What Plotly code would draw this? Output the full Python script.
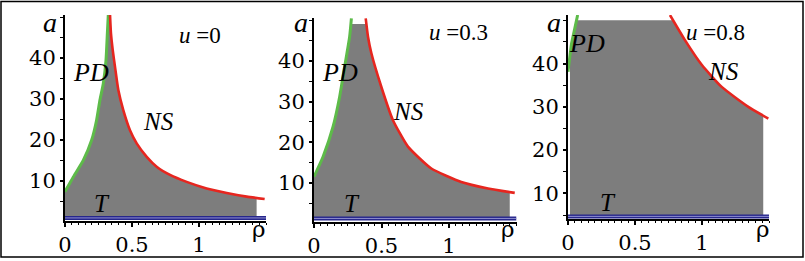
import numpy as np
import plotly.graph_objects as go

W, H = 805, 261

# ---------------- data ----------------
u_values = ["0", "0.3", "0.8"]
x_tickvals = [0, 0.5, 1]
x_ticktext = ["0", "0.5", "1"]
y_tickvals = [10, 20, 30, 40]
y_ticktext = ["10", "20", "30", "40"]

# u = 0
pd_rho_0 = [0.0, 0.062, 0.137, 0.199, 0.236, 0.261, 0.286, 0.306, 0.316, 0.323]
pd_a_0 = [7.4, 11.0, 15.1, 20.0, 24.9, 29.8, 33.8, 39.5, 46.0, 50.5]
ns_rho_0 = [0.336, 0.343, 0.356, 0.373, 0.398, 0.435, 0.485, 0.535, 0.61, 0.684,
            0.784, 0.908, 1.057, 1.207, 1.356, 1.49]
ns_a_0 = [50.5, 46.0, 42.0, 37.9, 32.2, 27.3, 22.4, 19.2, 15.9, 13.5,
          11.5, 9.8, 8.2, 7.1, 6.2, 5.6]
t_a_0 = 1.0

# u = 0.3
pd_rho_3 = [0.0, 0.067, 0.141, 0.19, 0.227, 0.264, 0.277]
pd_a_3 = [11.5, 16.4, 23.8, 31.2, 38.6, 46.0, 50.5]
ns_rho_3 = [0.383, 0.40, 0.425, 0.499, 0.585, 0.696, 0.869, 1.091, 1.289, 1.487]
ns_a_3 = [50.5, 46.0, 41.9, 33.6, 25.4, 18.9, 13.5, 10.2, 8.6, 7.5]
t_a_3 = 1.2

# u = 0.8
pd_rho_8 = [0.0, 0.027, 0.05, 0.072]
pd_a_8 = [38.1, 44.7, 48.0, 51.2]
ns_rho_8 = [0.761, 0.873, 0.998, 1.147, 1.346, 1.495]
ns_a_8 = [51.2, 45.4, 39.7, 34.6, 30.0, 27.3]
t_a_8 = 4.7
# left/top boundary of the shaded region for u = 0.8
edge_rho_8 = [0.015, 0.015, 0.065]
edge_a_8 = [4.7, 44.0, 50.0]

# shaded region limits (cap = top, right = right edge)
caps = [50.5, 49.1, 50.0]
rights = [1.43, 1.45, 1.457]

# ---------------- layout geometry (pixels) ----------------
x_px = [(65, 266), (314, 516.5), (568, 769)]
y_px = [(15, 221), (18, 221.7), (15, 219)]
y_ranges = [[0.25, 50.5], [0.4, 50.6], [4.1, 51.2]]

GREEN = "#5dbb49"
RED = "#e6261f"
BLUE_D = "#26268c"
BLUE_L = "#9a9ad6"
GRAY = "#7d7d7d"
FONT = "Liberation Serif, Times New Roman, serif"
TICKFONT = "DejaVu Serif, serif"


def region(left_r, left_a, ns_r, ns_a, cap, right, t):
    left_r = np.asarray(left_r, float)
    left_a = np.asarray(left_a, float)
    ns_r = np.asarray(ns_r, float)
    ns_a = np.asarray(ns_a, float)
    lx = list(left_r[left_a < cap])
    ly = list(left_a[left_a < cap])
    lx.append(float(np.interp(cap, left_a, left_r)))
    ly.append(cap)
    nx0 = float(np.interp(cap, ns_a[::-1], ns_r[::-1]))
    mask = (ns_a < cap) & (ns_r <= right)
    nx = [nx0] + list(ns_r[mask])
    ny = [cap] + list(ns_a[mask])
    nx.append(right)
    ny.append(float(np.interp(right, ns_r, ns_a)))
    xs = [left_r[0]] + lx + nx + [right, left_r[0]]
    ys = [t] + ly + ny + [t, t]
    return xs, ys


panels = [
    dict(pd=(pd_rho_0, pd_a_0), ns=(ns_rho_0, ns_a_0), t=t_a_0,
         edge=([0.0] + pd_rho_0, [t_a_0] + pd_a_0)),
    dict(pd=(pd_rho_3, pd_a_3), ns=(ns_rho_3, ns_a_3), t=t_a_3,
         edge=([0.0] + pd_rho_3, [t_a_3] + pd_a_3)),
    dict(pd=(pd_rho_8, pd_a_8), ns=(ns_rho_8, ns_a_8), t=t_a_8,
         edge=(edge_rho_8, edge_a_8)),
]

fig = go.Figure()
layout = {}
for i, p in enumerate(panels):
    k = "" if i == 0 else str(i + 1)
    xa, ya = "x" + k, "y" + k
    er, ea = p["edge"]
    gx, gy = region(er, ea, p["ns"][0], p["ns"][1], caps[i], rights[i], p["t"])
    fig.add_trace(go.Scatter(x=gx, y=gy, fill="toself", fillcolor=GRAY,
                             line=dict(width=0, color=GRAY), mode="lines",
                             hoverinfo="skip", xaxis=xa, yaxis=ya))
    fig.add_trace(go.Scatter(x=p["pd"][0], y=p["pd"][1], mode="lines",
                             line=dict(color=GREEN, width=3, shape="spline", smoothing=0.5),
                             xaxis=xa, yaxis=ya))
    fig.add_trace(go.Scatter(x=p["ns"][0], y=p["ns"][1], mode="lines",
                             line=dict(color=RED, width=2.6, shape="spline", smoothing=0.5),
                             xaxis=xa, yaxis=ya))
    fig.add_trace(go.Scatter(x=[0, 1.5], y=[p["t"], p["t"]], mode="lines",
                             line=dict(color=BLUE_D, width=4), xaxis=xa, yaxis=ya))
    fig.add_trace(go.Scatter(x=[0, 1.5], y=[p["t"], p["t"]], mode="lines",
                             line=dict(color=BLUE_L, width=0.9), xaxis=xa, yaxis=ya))

    x0, x1 = x_px[i]
    yt, yb = y_px[i]
    layout["xaxis" + k] = dict(
        domain=[x0 / W, x1 / W], range=[0, 1.5], anchor=ya,
        showline=True, linecolor="black", linewidth=2, mirror=False,
        tickmode="array", tickvals=x_tickvals, ticktext=x_ticktext,
        ticks="outside", ticklen=4, tickwidth=1.5, tickcolor="black",
        tickfont=dict(family=TICKFONT, size=21, color="black"),
        minor=dict(dtick=0.05, ticks="outside", ticklen=2, tickcolor="black", tickwidth=1),
        showgrid=False, zeroline=False, fixedrange=True)
    layout["yaxis" + k] = dict(
        domain=[1 - yb / H, 1 - yt / H], range=y_ranges[i], anchor=xa,
        showline=True, linecolor="black", linewidth=2,
        tickmode="array", tickvals=y_tickvals, ticktext=y_ticktext,
        ticks="outside", ticklen=3, tickwidth=1.5, tickcolor="black",
        ticklabelstandoff=0,
        tickfont=dict(family=TICKFONT, size=21, color="black"),
        minor=dict(dtick=5, ticks="outside", ticklen=3, tickcolor="black", tickwidth=1),
        showgrid=False, zeroline=False, fixedrange=True)

# ---------------- text labels (pixel positions) ----------------
def ann(text, xp, yp, size, italic=True, family=FONT):
    t = f"<i>{text}</i>" if italic else text
    return dict(text=t, x=xp / W, y=1 - yp / H, xref="paper", yref="paper",
                showarrow=False, xanchor="center", yanchor="middle",
                font=dict(family=family, size=size, color="black"))

annotations = []
a_pos = [(50, 23), (301, 23), (554, 22)]
rho_pos = [(259, 229), (508, 229), (763, 229)]
u_pos = [(200, 35), (458, 33), (715, 32)]
pd_pos = [(91, 72), (340, 72), (587, 43)]
ns_pos = [(158, 122), (408, 111), (723, 71)]
t_pos = [(102, 203), (352, 203), (608, 202)]
for i in range(3):
    annotations.append(ann("a", *a_pos[i], 28))
    annotations.append(ann("ρ", *rho_pos[i], 23, italic=False, family=TICKFONT))
    annotations.append(ann(f"<i>u</i> =" + u_values[i], *u_pos[i], 23, italic=False))
    annotations.append(ann("PD", *pd_pos[i], 26))
    annotations.append(ann("NS", *ns_pos[i], 25))
    annotations.append(ann("T", *t_pos[i], 25))

frame = dict(type="rect", xref="paper", yref="paper",
             x0=1 / W, x1=803 / W, y0=1 - 257 / H, y1=1 - 1.5 / H,
             line=dict(color="black", width=1.5))

fig.update_layout(
    width=W, height=H, margin=dict(l=0, r=0, t=0, b=0, autoexpand=False),
    font=dict(family=TICKFONT, size=21, color="black"),
    paper_bgcolor="white", plot_bgcolor="white", showlegend=False,
    annotations=annotations, shapes=[frame], **layout)

fig.write_html("out.html", config={"displayModeBar": False},
               post_script="document.body.style.margin='0';document.body.style.padding='0';"
                           "document.body.style.overflow='hidden';")
